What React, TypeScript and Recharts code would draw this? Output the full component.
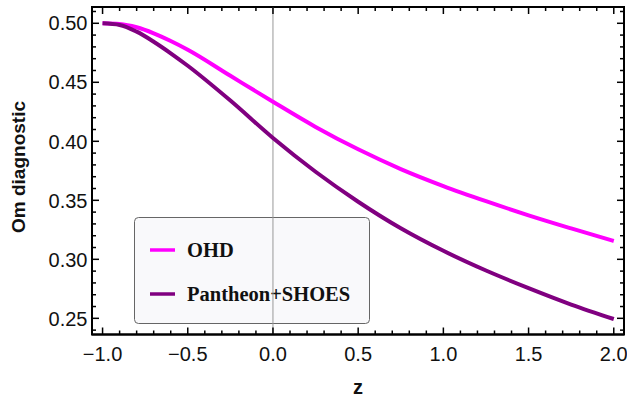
import React from 'react';
import {
  LineChart,
  Line,
  XAxis,
  YAxis,
  ReferenceLine,
  Customized,
} from 'recharts';

// redshift grid
const zValues = [-1, -0.9, -0.8, -0.7, -0.6, -0.5, -0.25, 0, 0.25, 0.5, 0.75, 1, 1.25, 1.5, 1.75, 2];
// Om(z)
const ohdValues = [0.5, 0.4994, 0.4966, 0.4915, 0.485, 0.4776, 0.4555, 0.4335, 0.4122, 0.3932, 0.3765, 0.3621, 0.3493, 0.3373, 0.3262, 0.3155];
const pantheonValues = [0.5, 0.4986, 0.4929, 0.4844, 0.4746, 0.464, 0.4345, 0.4028, 0.3742, 0.3488, 0.3263, 0.3072, 0.2905, 0.2756, 0.2617, 0.2494];

const seriesNames = ['OHD', 'Pantheon+SHOES'];
const seriesColors = ['#ff00ff', '#800080'];

const xMajorTicks = [-1, -0.5, 0, 0.5, 1, 1.5, 2];
const xAllTicks = [
  -1, -0.9, -0.8, -0.7, -0.6, -0.5, -0.4, -0.3, -0.2, -0.1, 0, 0.1, 0.2, 0.3, 0.4, 0.5,
  0.6, 0.7, 0.8, 0.9, 1, 1.1, 1.2, 1.3, 1.4, 1.5, 1.6, 1.7, 1.8, 1.9, 2,
];
const yMajorTicks = [0.25, 0.3, 0.35, 0.4, 0.45, 0.5];
const yAllTicks = [
  0.24, 0.25, 0.26, 0.27, 0.28, 0.29, 0.3, 0.31, 0.32, 0.33, 0.34, 0.35, 0.36, 0.37,
  0.38, 0.39, 0.4, 0.41, 0.42, 0.43, 0.44, 0.45, 0.46, 0.47, 0.48, 0.49, 0.5, 0.51,
];

const data = zValues.map((z, i) => ({ z, ohd: ohdValues[i], pantheon: pantheonValues[i] }));

// layout
const W = 627;
const H = 401;
const M_TOP = 7;
const M_RIGHT = 3;
const Y_AXIS_W = 92;
const X_AXIS_H = 66.5;

const FONT = '"Liberation Sans", Arial, sans-serif';
const isMajor = (list: number[], v: number) => list.some((m) => Math.abs(m - v) < 1e-6);
const fmt = (v: number, d: number) => v.toFixed(d).replace('-', '\u2212');
const tickLen = (major: boolean) => (major ? 7 : 4);

// ticks point into the frame, Mathematica style
const makeTick = (side: 'bottom' | 'left') => (props: any) => {
  const { x, y, payload } = props;
  const v = payload.value;
  const major = isMajor(side === 'bottom' ? xMajorTicks : yMajorTicks, v);
  const len = tickLen(major);
  return (
    <g>
      {side === 'bottom' ? (
        <line x1={x} y1={y} x2={x} y2={y - len} stroke="#000" strokeWidth={1.5} />
      ) : (
        <line x1={x} y1={y} x2={x + len} y2={y} stroke="#000" strokeWidth={1.5} />
      )}
      {major && side === 'bottom' && (
        <text x={x} y={y + 26} textAnchor="middle" fontSize={20} fontFamily={FONT} fill="#111">
          {fmt(v, 1)}
        </text>
      )}
      {major && side === 'left' && (
        <text x={x - 4.5} y={y + 7.2} textAnchor="end" fontSize={20} fontFamily={FONT} fill="#111">
          {fmt(v, 2)}
        </text>
      )}
    </g>
  );
};

// endpoints of a reference line, whichever form the shape gets them in
const ends = (p: any) => {
  if (p.x1 != null && p.y1 != null) return [p.x1, p.y1, p.x2, p.y2];
  const pts = p.points || [];
  if (pts.length === 2) return [pts[0].x, pts[0].y, pts[1].x, pts[1].y];
  return null;
};

// top / right frame ticks, hung off reference lines so the chart's scales place them
const topTick = (major: boolean) => (p: any) => {
  const e = ends(p);
  if (!e) return <g />;
  const top = Math.min(e[1], e[3]);
  return <line x1={e[0]} y1={top} x2={e[0]} y2={top + tickLen(major)} stroke="#000" strokeWidth={1.5} />;
};
const rightTick = (major: boolean) => (p: any) => {
  const e = ends(p);
  if (!e) return <g />;
  const right = Math.max(e[0], e[2]);
  return <line x1={right} y1={e[1]} x2={right - tickLen(major)} y2={e[1]} stroke="#000" strokeWidth={1.5} />;
};

// plot frame from the layout constants
const Frame = () => (
  <rect
    x={Y_AXIS_W}
    y={M_TOP}
    width={W - M_RIGHT - Y_AXIS_W}
    height={H - M_TOP - X_AXIS_H}
    fill="none"
    stroke="#000"
    strokeWidth={2}
  />
);

const LegendBox = () => (
  <g>
    <rect x={134.5} y={217.5} width={235} height={106} rx={4} fill="#f9f9fb" stroke="#666" strokeWidth={1} />
    {seriesNames.map((name, i) => (
      <g key={name}>
        <line x1={150} y1={250 + i * 44} x2={175} y2={250 + i * 44} stroke={seriesColors[i]} strokeWidth={3.5} />
        <text
          x={187}
          y={257 + i * 44}
          fontSize={20.5}
          fontWeight="bold"
          fontFamily='"Liberation Serif", "Times New Roman", serif'
          fill="#111"
        >
          {name}
        </text>
      </g>
    ))}
  </g>
);

export default function App() {
  const xDomain = [-1.062, 2.06];
  const yDomain = [0.2363, 0.5138];
  return (
    <div style={{ position: 'absolute', left: 0, top: 0, width: W, height: H, background: '#fff' }}>
      <LineChart width={W} height={H} data={data} margin={{ top: M_TOP, right: M_RIGHT, left: 0, bottom: 0 }}>
        <XAxis
          dataKey="z"
          type="number"
          domain={xDomain}
          ticks={xAllTicks}
          interval={0}
          allowDataOverflow
          height={X_AXIS_H}
          tickSize={0}
          tickMargin={0}
          tickLine={false}
          axisLine={{ stroke: '#000', strokeWidth: 2 }}
          tick={makeTick('bottom')}
          label={() => (
            <text x={358} y={394} textAnchor="middle" fontSize={20} fontWeight="bold" fontFamily={FONT} fill="#111">
              z
            </text>
          )}
        />
        <YAxis
          type="number"
          domain={yDomain}
          ticks={yAllTicks}
          interval={0}
          allowDataOverflow
          width={Y_AXIS_W}
          tickSize={0}
          tickMargin={0}
          tickLine={false}
          axisLine={{ stroke: '#000', strokeWidth: 2 }}
          tick={makeTick('left')}
          label={() => (
            <text
              x={18.5}
              y={167}
              transform="rotate(-90 18.5 167)"
              textAnchor="middle"
              dominantBaseline="central"
              fontSize={19}
              fontWeight="bold"
              fontFamily={FONT}
              fill="#111"
            >
              Om diagnostic
            </text>
          )}
        />
        <Customized component={Frame} />
        <Customized component={LegendBox} />
        <ReferenceLine x={0} stroke="#999" strokeWidth={1} />
        {xAllTicks.map((v) => (
          <ReferenceLine key={`tx${v}`} x={v} stroke="#000" shape={topTick(isMajor(xMajorTicks, v))} />
        ))}
        {yAllTicks.map((v) => (
          <ReferenceLine key={`ty${v}`} y={v} stroke="#000" shape={rightTick(isMajor(yMajorTicks, v))} />
        ))}
        <Line
          type="monotone"
          dataKey="ohd"
          name={seriesNames[0]}
          stroke={seriesColors[0]}
          strokeWidth={4}
          dot={false}
          isAnimationActive={false}
        />
        <Line
          type="monotone"
          dataKey="pantheon"
          name={seriesNames[1]}
          stroke={seriesColors[1]}
          strokeWidth={4}
          dot={false}
          isAnimationActive={false}
        />
      </LineChart>
    </div>
  );
}
